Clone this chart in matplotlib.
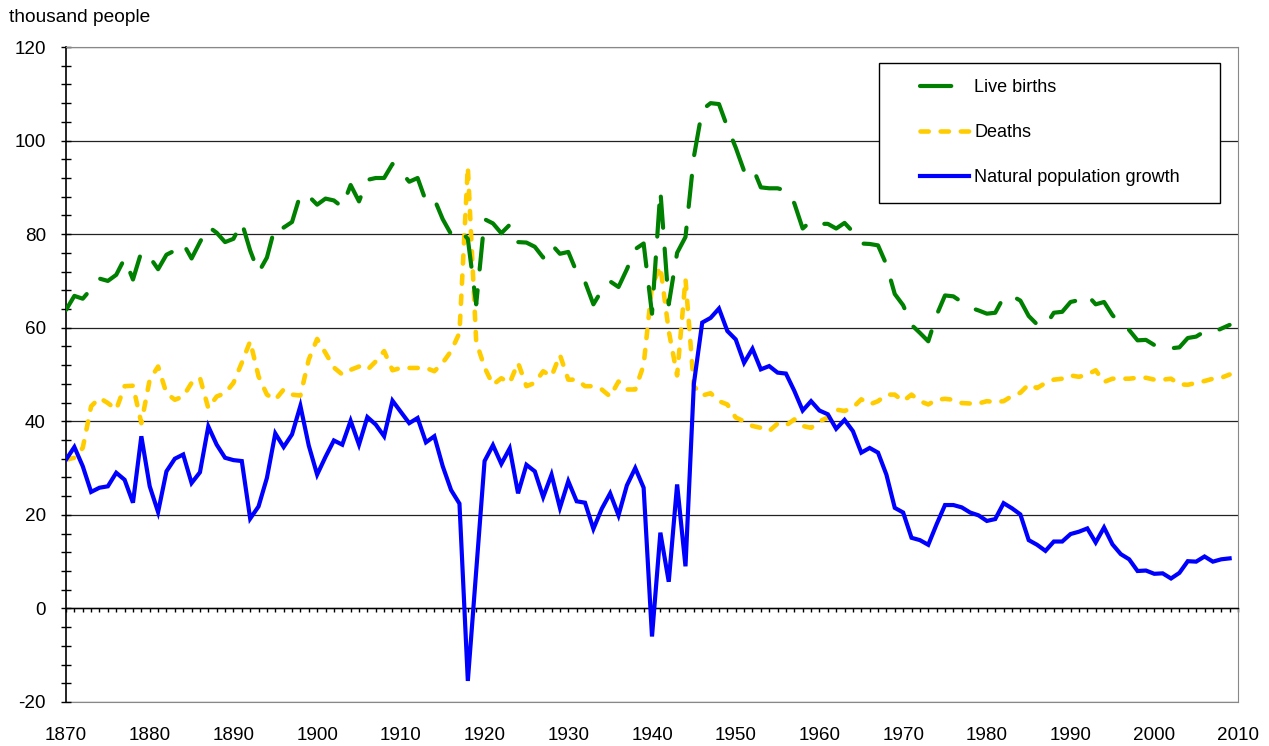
import numpy as np
import matplotlib.pyplot as plt
from matplotlib.ticker import MultipleLocator
from matplotlib.patches import Rectangle

plt.rcParams['font.family'] = ['Liberation Sans', 'DejaVu Sans']
plt.rcParams['axes.unicode_minus'] = False

years = list(range(1870, 2010))

# thousand people, 1870..2009
births = [
    63.8, 66.8, 66.2, 68.3, 70.5, 70.0, 71.3, 74.8, 70.3, 76.2,
    75.1, 72.5, 75.6, 76.5, 78.0, 74.8, 78.3, 81.6, 80.3, 78.3,
    79.0, 82.5, 76.5, 71.8, 75.0, 81.8, 81.4, 82.6, 88.5, 88.1,
    86.3, 87.6, 87.2, 85.8, 90.5, 87.0, 91.6, 92.0, 92.0, 95.0,
    93.4, 91.2, 92.0, 87.0, 87.5, 83.2, 80.0, 81.0, 79.0, 65.0,
    83.2, 82.3, 80.2, 82.0, 78.3, 78.2, 77.3, 75.0, 77.8, 75.8,
    76.2, 71.9, 69.8, 65.0, 68.0, 69.9, 68.7, 72.5, 76.8, 78.0,
    63.0, 89.3, 65.0, 76.0, 79.4, 96.5, 106.6, 108.0, 107.8, 102.9,
    98.5, 93.5, 94.4, 90.0, 89.8, 89.8, 89.3, 86.6, 81.2, 82.8,
    82.2, 82.2, 81.2, 82.4, 80.5, 78.0, 77.9, 77.6, 73.5, 67.2,
    64.8, 60.6, 58.9, 57.1, 62.7, 66.9, 66.7, 65.5, 64.3, 63.7,
    63.0, 63.2, 66.5, 66.8, 65.8, 62.5, 60.7, 60.4, 63.2, 63.4,
    65.5, 65.9, 67.0, 65.0, 65.5, 62.7, 60.7, 59.5, 57.3, 57.4,
    56.3, 56.4, 55.6, 55.8, 57.8, 58.1, 59.2, 59.0, 59.8, 60.6,
]
deaths = [
    31.8, 32.2, 34.3, 43.2, 45.0, 43.9, 42.5, 47.5, 47.6, 39.6,
    48.9, 51.7, 46.0, 44.6, 45.3, 48.2, 49.3, 42.8, 45.3, 46.0,
    48.2, 52.5, 57.1, 49.6, 45.7, 44.6, 46.8, 45.7, 45.5, 53.2,
    57.6, 54.6, 51.5, 50.0, 51.0, 51.7, 51.0, 52.8, 55.0, 50.9,
    51.4, 51.4, 51.4, 51.4, 50.7, 52.5, 55.0, 58.9, 94.4, 57.0,
    51.5, 47.8, 49.2, 48.2, 52.5, 47.5, 48.2, 50.7, 49.6, 54.2,
    48.9, 48.9, 47.5, 47.5, 46.8, 45.3, 48.5, 46.8, 46.8, 52.0,
    69.0, 73.1, 59.3, 49.8, 70.4, 47.5, 45.5, 46.0, 44.3, 43.6,
    40.8, 40.0, 39.0, 38.6, 37.9, 39.5, 39.1, 40.4, 39.0, 38.6,
    40.0, 40.8, 42.5, 42.2, 42.9, 44.7, 43.6, 44.3, 45.7, 45.7,
    44.3, 45.7, 44.3, 43.6, 44.6, 44.8, 44.6, 43.9, 43.8, 43.8,
    44.3, 44.1, 44.3, 45.4, 46.1, 47.9, 47.1, 48.2, 48.9, 49.1,
    49.8, 49.5, 50.0, 50.9, 48.4, 49.1, 49.1, 49.1, 49.3, 49.3,
    48.9, 48.9, 49.1, 47.9, 47.8, 48.2, 48.6, 49.1, 49.3, 50.0,
]
growth = [
    31.8, 34.5, 30.4, 24.9, 25.8, 26.1, 29.0, 27.5, 22.6, 36.8,
    26.1, 20.6, 29.3, 32.0, 32.9, 26.8, 29.1, 38.9, 35.0, 32.2,
    31.7, 31.5, 19.2, 21.8, 27.9, 37.4, 34.5, 37.2, 43.3, 34.8,
    28.6, 32.4, 35.9, 35.0, 40.1, 35.0, 40.9, 39.3, 36.8, 44.4,
    42.0, 39.6, 40.7, 35.5, 36.8, 30.4, 25.3, 22.4, -15.5, 8.0,
    31.5, 34.9, 30.9, 34.2, 24.6, 30.7, 29.3, 23.8, 28.6, 21.5,
    27.2, 22.9, 22.6, 17.0, 21.3, 24.6, 19.9, 26.3, 30.0, 25.8,
    -6.0, 16.2, 5.7, 26.5, 9.0, 48.0, 61.1, 62.1, 64.1, 59.3,
    57.5, 52.5, 55.5, 51.1, 51.8, 50.4, 50.2, 46.5, 42.3, 44.3,
    42.3, 41.5, 38.4, 40.3, 37.9, 33.3, 34.3, 33.3, 28.6, 21.5,
    20.5, 15.1, 14.6, 13.6, 18.0, 22.1, 22.1, 21.6, 20.5, 19.9,
    18.7, 19.1, 22.5, 21.4, 20.1, 14.6, 13.6, 12.3, 14.3, 14.3,
    15.9, 16.4, 17.1, 14.1, 17.3, 13.7, 11.6, 10.5, 8.0, 8.1,
    7.4, 7.5, 6.4, 7.6, 10.1, 10.0, 11.1, 10.0, 10.5, 10.7,
]

fig = plt.figure(figsize=(12.69, 7.46), dpi=100)
ax = fig.add_axes([66 / 1269, 44 / 746, 1172 / 1269, 655 / 746])

ax.plot(years, deaths, color='#FFCC00', lw=3.3, dashes=(1.8, 2.6),
        dash_capstyle='round', label='Deaths', zorder=3)
ax.plot(years, births, color='#008000', lw=3.0, dashes=(7.5, 5.0),
        dash_capstyle='round', label='Live births', zorder=3)
ax.plot(years, growth, color='#0000FF', lw=3.0, solid_joinstyle='miter',
        label='Natural population growth', zorder=4)

ax.set_xlim(1870, 2010)
ax.set_ylim(-20, 120)

# y axis
ax.yaxis.set_major_locator(MultipleLocator(20))
ax.yaxis.set_minor_locator(MultipleLocator(4))
ax.tick_params(axis='y', which='both', direction='inout', length=7, width=1,
               labelsize=13.6, pad=11)
ax.grid(axis='y', which='major', color='#222222', lw=0.9, zorder=1)

# x ticks on the zero line
ax.spines['bottom'].set_position(('data', 0))
ax.spines['bottom'].set_linewidth(1.0)
ax.xaxis.set_major_locator(MultipleLocator(1))
ax.tick_params(axis='x', direction='out', length=3, width=1, labelbottom=False)

ax.spines['left'].set_linewidth(1.2)
for s in ['top', 'right']:
    ax.spines[s].set_color('#888888')

sec = ax.secondary_xaxis('bottom')
sec.set_xticks(range(1870, 2011, 10))
sec.tick_params(length=0, labelsize=13.6, pad=18)
sec.spines['bottom'].set_color('#888888')

fig.text(0.007, 1 - 18 / 746, 'thousand people', fontsize=13.8, va='center', ha='left')

# legend box
x0, y0, w, h = 0.694, 0.762, 0.291, 0.2136
ax.add_patch(Rectangle((x0, y0), w, h, transform=ax.transAxes, facecolor='white',
                       edgecolor='black', lw=1.0, zorder=5))
handles, labels = ax.get_legend_handles_labels()
order = [1, 0, 2]
leg = ax.legend([handles[i] for i in order], [labels[i] for i in order],
                loc='center', bbox_to_anchor=(x0 + w / 2, y0 + h / 2),
                frameon=False, fontsize=13, handlelength=2.7, handletextpad=0.3,
                labelspacing=1.55, borderpad=0)
leg.set_zorder(6)

fig.savefig('out.png', dpi=100)
